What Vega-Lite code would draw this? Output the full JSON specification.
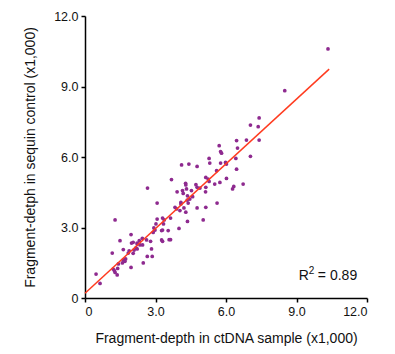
{
  "$schema": "https://vega.github.io/schema/vega-lite/v6.json",
  "width": 282,
  "height": 282,
  "autosize": "none",
  "padding": {"left": 85, "top": 16, "right": 28, "bottom": 56},
  "config": {
    "view": {"stroke": null},
    "font": "Liberation Sans",
    "axis": {
      "grid": false,
      "domainColor": "#000",
      "domainWidth": 1.5,
      "tickColor": "#000",
      "tickWidth": 1.5,
      "tickSize": 4,
      "labelFont": "Liberation Sans",
      "labelFontSize": 12.5,
      "labelColor": "#111",
      "titleFont": "Liberation Sans",
      "titleFontSize": 14,
      "titleFontWeight": "normal",
      "titleColor": "#111"
    }
  },
  "datasets": {
    "pts": [
      {"x": 10.34, "y": 10.6}, {"x": 8.5, "y": 8.82}, {"x": 7.41, "y": 7.66}, {"x": 7.04, "y": 7.36},
      {"x": 7.37, "y": 7.29}, {"x": 7.41, "y": 6.72}, {"x": 6.87, "y": 6.72}, {"x": 6.45, "y": 6.7},
      {"x": 6.49, "y": 6.38}, {"x": 7.04, "y": 6.03}, {"x": 5.71, "y": 6.48}, {"x": 5.77, "y": 6.23},
      {"x": 5.81, "y": 6.16}, {"x": 5.28, "y": 5.94}, {"x": 5.31, "y": 5.74}, {"x": 5.77, "y": 5.74},
      {"x": 5.98, "y": 5.77}, {"x": 6.02, "y": 5.7}, {"x": 6.42, "y": 5.94}, {"x": 6.45, "y": 5.48},
      {"x": 5.6, "y": 5.42}, {"x": 6.02, "y": 5.09}, {"x": 5.74, "y": 4.92}, {"x": 5.52, "y": 4.85},
      {"x": 6.73, "y": 4.85}, {"x": 6.33, "y": 4.75}, {"x": 6.28, "y": 4.64}, {"x": 5.14, "y": 5.13},
      {"x": 5.24, "y": 5.06}, {"x": 5.28, "y": 4.96}, {"x": 4.77, "y": 5.6}, {"x": 4.42, "y": 5.7},
      {"x": 4.11, "y": 5.66}, {"x": 3.68, "y": 5.04}, {"x": 4.28, "y": 4.88}, {"x": 4.29, "y": 4.81},
      {"x": 4.72, "y": 4.82}, {"x": 4.77, "y": 4.71}, {"x": 4.89, "y": 4.68}, {"x": 5.14, "y": 4.71},
      {"x": 5.13, "y": 4.52}, {"x": 4.53, "y": 4.57}, {"x": 4.32, "y": 4.64}, {"x": 3.92, "y": 4.52},
      {"x": 4.15, "y": 4.57}, {"x": 4.18, "y": 4.45}, {"x": 4.36, "y": 4.35}, {"x": 4.58, "y": 4.31},
      {"x": 4.46, "y": 4.21}, {"x": 4.35, "y": 4.17}, {"x": 4.39, "y": 4.04}, {"x": 4.08, "y": 4.07},
      {"x": 4.08, "y": 4.0}, {"x": 5.62, "y": 4.04}, {"x": 4.77, "y": 3.83}, {"x": 5.14, "y": 3.86},
      {"x": 3.83, "y": 3.86}, {"x": 3.9, "y": 3.79}, {"x": 4.21, "y": 3.83}, {"x": 4.04, "y": 3.72},
      {"x": 4.29, "y": 3.65}, {"x": 3.07, "y": 4.04}, {"x": 2.66, "y": 4.68}, {"x": 4.36, "y": 3.26},
      {"x": 5.03, "y": 3.32}, {"x": 3.64, "y": 3.4}, {"x": 3.3, "y": 3.4}, {"x": 3.37, "y": 3.32},
      {"x": 3.07, "y": 3.36}, {"x": 3.02, "y": 3.15}, {"x": 3.34, "y": 3.15}, {"x": 2.93, "y": 2.98},
      {"x": 2.98, "y": 2.89}, {"x": 2.9, "y": 2.79}, {"x": 3.26, "y": 2.87}, {"x": 3.3, "y": 2.89},
      {"x": 3.54, "y": 2.87}, {"x": 4.0, "y": 2.96}, {"x": 3.26, "y": 2.47}, {"x": 3.3, "y": 2.41},
      {"x": 3.58, "y": 2.48}, {"x": 3.64, "y": 2.48}, {"x": 2.79, "y": 2.41}, {"x": 2.62, "y": 2.47},
      {"x": 2.83, "y": 2.09}, {"x": 2.65, "y": 1.77}, {"x": 2.86, "y": 1.77}, {"x": 2.48, "y": 1.49},
      {"x": 1.96, "y": 1.3}, {"x": 2.44, "y": 2.54}, {"x": 2.31, "y": 2.44}, {"x": 1.96, "y": 2.7},
      {"x": 1.98, "y": 2.34}, {"x": 2.05, "y": 2.37}, {"x": 2.22, "y": 2.34}, {"x": 2.22, "y": 2.3},
      {"x": 2.34, "y": 2.26}, {"x": 2.45, "y": 2.26}, {"x": 2.17, "y": 2.13}, {"x": 2.22, "y": 2.09},
      {"x": 2.09, "y": 2.04}, {"x": 1.88, "y": 2.01}, {"x": 2.05, "y": 1.9}, {"x": 1.84, "y": 1.91},
      {"x": 1.63, "y": 2.06}, {"x": 1.49, "y": 2.44}, {"x": 1.28, "y": 3.32}, {"x": 1.16, "y": 1.91},
      {"x": 1.73, "y": 1.66}, {"x": 1.63, "y": 1.62}, {"x": 1.7, "y": 1.56}, {"x": 1.59, "y": 1.49},
      {"x": 1.42, "y": 1.45}, {"x": 1.39, "y": 1.26}, {"x": 1.2, "y": 1.23}, {"x": 1.25, "y": 1.16},
      {"x": 1.28, "y": 1.09}, {"x": 1.37, "y": 0.98}, {"x": 0.47, "y": 1.02}, {"x": 0.64, "y": 0.62}
    ],
    "fit": [{"x": 0, "y": 0.2}, {"x": 10.39, "y": 9.74}],
    "note": [{"x": 9.1, "y": 0.95, "r": "R", "sup": "2", "rest": "= 0.89"}]
  },
  "layer": [
    {
      "data": {"name": "pts"},
      "mark": {"type": "point", "filled": true, "shape": "circle", "size": 14, "color": "#8E2A8F", "opacity": 1},
      "encoding": {
        "x": {
          "field": "x", "type": "quantitative",
          "scale": {"domain": [0, 12], "nice": false, "zero": true},
          "axis": {"values": [0, 3, 6, 9, 12], "labelExpr": "datum.value == 0 ? '0' : format(datum.value, '.1f')", "title": "Fragment-depth in ctDNA sample (x1,000)", "titlePadding": 14, "labelPadding": 3}
        },
        "y": {
          "field": "y", "type": "quantitative",
          "scale": {"domain": [0, 12], "nice": false, "zero": true},
          "axis": {"values": [0, 3, 6, 9, 12], "labelExpr": "datum.value == 0 ? '0' : format(datum.value, '.1f')", "title": "Fragment-detph in sequin control (x1,000)", "titlePadding": 16, "labelPadding": 3}
        }
      }
    },
    {
      "data": {"name": "fit"},
      "mark": {"type": "line", "color": "#FF3B1F", "strokeWidth": 1.5},
      "encoding": {
        "x": {"field": "x", "type": "quantitative"},
        "y": {"field": "y", "type": "quantitative"}
      }
    },
    {
      "data": {"name": "note"},
      "mark": {"type": "text", "align": "left", "baseline": "middle", "fontSize": 14, "font": "Liberation Sans", "color": "#111"},
      "encoding": {
        "x": {"field": "x", "type": "quantitative"},
        "y": {"field": "y", "type": "quantitative"},
        "text": {"field": "r"}
      }
    },
    {
      "data": {"name": "note"},
      "mark": {"type": "text", "align": "left", "baseline": "middle", "fontSize": 10, "dx": 10, "dy": -5, "font": "Liberation Sans", "color": "#111"},
      "encoding": {
        "x": {"field": "x", "type": "quantitative"},
        "y": {"field": "y", "type": "quantitative"},
        "text": {"field": "sup"}
      }
    },
    {
      "data": {"name": "note"},
      "mark": {"type": "text", "align": "left", "baseline": "middle", "fontSize": 14, "dx": 19, "font": "Liberation Sans", "color": "#111"},
      "encoding": {
        "x": {"field": "x", "type": "quantitative"},
        "y": {"field": "y", "type": "quantitative"},
        "text": {"field": "rest"}
      }
    }
  ]
}
